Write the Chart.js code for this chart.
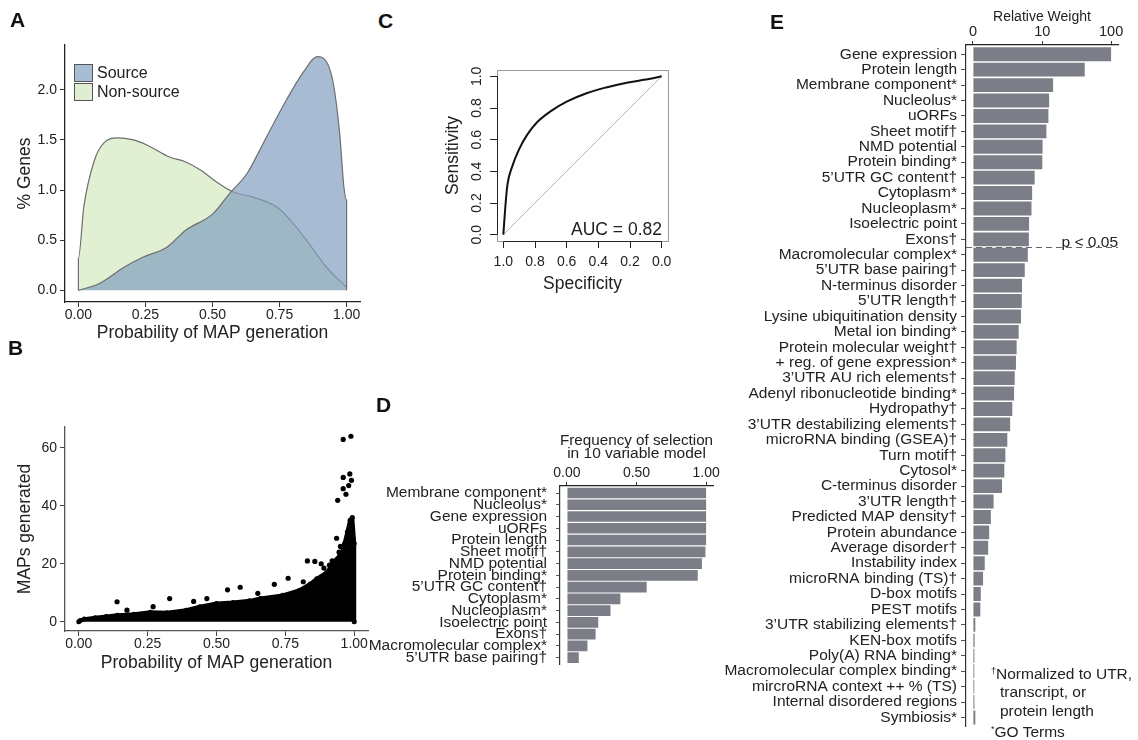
<!DOCTYPE html>
<html lang="en">
<head>
<meta charset="utf-8">
<title>MAP source gene model</title>
<script src="https://cdn.jsdelivr.net/npm/chart.js@4.4.1/dist/chart.umd.min.js"></script>
<style>
  html, body { margin: 0; background: #fff; }
  #figure { position: relative; width: 1138px; height: 740px; overflow: hidden;
            font-family: 'Liberation Sans', Arial, Helvetica, sans-serif; color: #222; }
  #figure canvas { position: absolute; }
  .panel { position: absolute; font-size: 21px; font-weight: bold; line-height: 1; color: #111; }
  .swatch { position: absolute; width: 19px; height: 18px; box-sizing: border-box; border: 1px solid #555; }
  .key { position: absolute; font-size: 16px; line-height: 18px; }
  .note { position: absolute; font-size: 15.5px; line-height: 19.5px; white-space: nowrap; }
  .note sup { font-size: 9px; vertical-align: 5px; }
</style>
</head>
<body>
<div id="figure">
  <canvas id="densityChart" width="370" height="350" style="left:0;top:0"></canvas>
  <canvas id="mapChart" width="378" height="285" style="left:0;top:395px"></canvas>
  <canvas id="rocChart" width="240" height="250" style="left:440px;top:55px"></canvas>
  <canvas id="freqChart" width="370" height="262" style="left:350px;top:421px"></canvas>
  <canvas id="weightChart" width="418" height="740" style="left:720px;top:0"></canvas>

  <div class="panel" style="left:10px;top:9px">A</div>
  <div class="panel" style="left:8px;top:337px">B</div>
  <div class="panel" style="left:378px;top:10px">C</div>
  <div class="panel" style="left:376px;top:394px">D</div>
  <div class="panel" style="left:770px;top:11px">E</div>

  <div class="swatch" style="left:74px;top:64px;background:#a8bdd4"></div>
  <div class="key" style="left:97px;top:64px">Source</div>
  <div class="swatch" style="left:74px;top:83px;background:#e1edd3"></div>
  <div class="key" style="left:97px;top:83px">Non-source</div>

  <div class="note" style="left:991px;top:662px"><sup>†</sup>Normalized to UTR,</div>
  <div class="note" style="left:1000px;top:682px">transcript, or</div>
  <div class="note" style="left:1000px;top:701px">protein length</div>
  <div class="note" style="left:991px;top:720px"><sup>*</sup>GO Terms</div>
</div>

<script>
// A: density of the predicted probability, source vs non-source genes
const densityXTicks = [0, 0.25, 0.5, 0.75, 1];
const densityYTicks = [0, 0.5, 1, 1.5, 2];
const sourceX = [0, 0.08, 0.17, 0.24, 0.33, 0.40, 0.50, 0.565, 0.63, 0.69, 0.776, 0.84, 0.89, 0.925, 0.95, 0.974, 0.99, 1, 1];
const sourceY = [0, 0.07, 0.23, 0.33, 0.43, 0.60, 0.76, 0.97, 1.17, 1.47, 1.90, 2.18, 2.33, 2.28, 2.07, 1.57, 1.03, 0.90, 0];
const nonSourceX = [0, 0, 0.02, 0.06, 0.095, 0.145, 0.205, 0.255, 0.34, 0.40, 0.455, 0.515, 0.577, 0.65, 0.74, 0.79, 0.85, 0.925, 1];
const nonSourceY = [0, 0.32, 0.83, 1.30, 1.47, 1.52, 1.50, 1.45, 1.33, 1.28, 1.20, 1.08, 0.98, 0.93, 0.83, 0.70, 0.50, 0.23, 0.03];

// B: MAPs generated per gene against probability (dense cloud outline + stray genes)
const mapXTicks = [0, 0.25, 0.5, 0.75, 1];
const mapYTicks = [0, 20, 40, 60];
const cloudX = [0, 0.005, 0.02, 0.06, 0.1, 0.14, 0.2, 0.26, 0.32, 0.39, 0.44, 0.5, 0.56, 0.62, 0.66, 0.74, 0.8, 0.84, 0.864, 0.9, 0.936, 0.955, 0.965, 0.975, 0.985, 0.993, 1, 1];
const cloudY = [0, 0.4, 0.9, 1.4, 1.8, 2.2, 2.6, 3.3, 3.1, 4.0, 5.2, 6.3, 6.6, 7.2, 8.0, 9.1, 10.8, 13.0, 14.8, 17.0, 21.5, 24, 27, 31, 35, 36, 27, 0];
const outlierX = [0.96, 0.988, 0.96, 0.984, 0.96, 0.98, 0.99, 0.97, 0.94, 0.936, 0.83, 0.139, 0.33, 0.54, 0.586, 0.71, 0.76, 0.857, 0.88, 0.92, 0.815, 0.465, 0.417, 0.27, 0.175, 0.65, 0.95, 0.945, 0.91, 0.89];
const outlierY = [62.9, 64, 49.8, 51, 45.9, 47, 48.8, 44, 41.9, 28.8, 21, 6.9, 8, 11, 11.9, 12.9, 15, 20.8, 20, 21, 13.8, 8, 7, 5.2, 4, 9.8, 26, 24, 19.5, 18.5];

// C: ROC curve of the model
const rocTicks = [0, 0.2, 0.4, 0.6, 0.8, 1];
const rocSpecificity = [1, 0.99, 0.975, 0.944, 0.9, 0.85, 0.787, 0.7, 0.6, 0.47, 0.35, 0.22, 0.1, 0];
const rocSensitivity = [0, 0.14, 0.31, 0.43, 0.54, 0.63, 0.71, 0.78, 0.84, 0.895, 0.93, 0.96, 0.98, 1];
const chanceSpecificity = [1, 0];
const chanceSensitivity = [0, 1];
const aucValue = 0.82;

// D: how often each variable enters the 10 variable model
const freqTicks = [0, 0.5, 1];
const freqLabels = ['Membrane component*', 'Nucleolus*', 'Gene expression', 'uORFs', 'Protein length',
  'Sheet motif†', 'NMD potential', 'Protein binding*', '5’UTR GC content†', 'Cytoplasm*', 'Nucleoplasm*',
  'Isoelectric point', 'Exons†', 'Macromolecular complex*', '5’UTR base pairing†'];
const freqValues = [1, 1, 1, 1, 1, 0.995, 0.97, 0.94, 0.573, 0.384, 0.313, 0.225, 0.206, 0.147, 0.085];

// E: relative weight of every variable (pseudo-log axis)
const weightTicks = [0, 10, 100];
const weightLabels = ['Gene expression', 'Protein length', 'Membrane component*', 'Nucleolus*', 'uORFs',
  'Sheet motif†', 'NMD potential', 'Protein binding*', '5’UTR GC content†', 'Cytoplasm*', 'Nucleoplasm*',
  'Isoelectric point', 'Exons†', 'Macromolecular complex*', '5’UTR base pairing†', 'N-terminus disorder',
  '5’UTR length†', 'Lysine ubiquitination density', 'Metal ion binding*', 'Protein molecular weight†',
  '+ reg. of gene expression*', '3’UTR AU rich elements†', 'Adenyl ribonucleotide binding*', 'Hydropathy†',
  '3’UTR destabilizing elements†', 'microRNA binding (GSEA)†', 'Turn motif†', 'Cytosol*', 'C-terminus disorder',
  '3’UTR length†', 'Predicted MAP density†', 'Protein abundance', 'Average disorder†', 'Instability index',
  'microRNA binding (TS)†', 'D-box motifs', 'PEST motifs', '3’UTR stabilizing elements†', 'KEN-box motifs',
  'Poly(A) RNA binding*', 'Macromolecular complex binding*', 'mircroRNA context ++ % (TS)',
  'Internal disordered regions', 'Symbiosis*'];
const weightValues = [100, 41.5, 14.4, 12.6, 12.3, 11.5, 10.1, 10.0, 7.7, 7.06, 6.9, 6.35, 6.3,
  6.07, 5.45, 4.94, 4.9, 4.76, 4.38, 4.06, 3.96, 3.78, 3.69, 3.45, 3.17, 2.83, 2.61, 2.5, 2.26,
  1.49, 1.27, 1.14, 1.06, 0.81, 0.69, 0.53, 0.5, 0.16, 0.115, 0.1, 0.09, 0.09, 0.1, 0.16];
const significantCount = 13;
const cutoffText = 'p < 0.05';

const FONT = "'Liberation Sans', Arial, Helvetica, sans-serif";
Chart.defaults.font.family = FONT;
Chart.defaults.font.size = 14;
Chart.defaults.color = '#222';
Chart.defaults.animation = false;
Chart.defaults.responsive = false;
Chart.defaults.plugins.legend.display = false;
Chart.defaults.plugins.tooltip.enabled = false;

const zip = (xs, ys) => xs.map((x, i) => ({ x, y: ys[i] }));
const fixedTicks = values => scale => { scale.ticks = values.map(value => ({ value })); };
const fixedSize = px => scale => { if (scale.isHorizontal()) scale.height = px; else scale.width = px; };
const pseudoLog = v => Math.asinh(v / 2) / Math.LN10;

new Chart('densityChart', {
  type: 'line',
  data: {
    datasets: [
      { data: zip(sourceX, sourceY), fill: 'origin', backgroundColor: 'rgba(129,159,192,0.7)',
        borderColor: '#6e6e6e', borderWidth: 1.2, pointRadius: 0, cubicInterpolationMode: 'monotone' },
      { data: zip(nonSourceX, nonSourceY), fill: 'origin', backgroundColor: 'rgba(200,225,175,0.55)',
        borderColor: '#6e6e6e', borderWidth: 1.2, pointRadius: 0, cubicInterpolationMode: 'monotone' }
    ]
  },
  options: {
    layout: { padding: { top: 45, right: 10, left: 0, bottom: 0 } },
    scales: {
      x: {
        type: 'linear', min: -0.05, max: 1.05,
        afterBuildTicks: fixedTicks(densityXTicks), afterFit: fixedSize(48),
        ticks: { padding: 0, maxRotation: 0, autoSkip: false, callback: v => v.toFixed(2) },
        grid: { drawOnChartArea: false, tickLength: 5, color: '#333' },
        border: { color: '#222', width: 1.3 },
        title: { display: true, text: 'Probability of MAP generation', font: { size: 17.5 }, padding: { top: 0, bottom: 6.5 } }
      },
      y: {
        type: 'linear', min: -0.1165, max: 2.4465,
        afterBuildTicks: fixedTicks(densityYTicks), afterFit: fixedSize(65),
        ticks: { padding: 3, autoSkip: false, callback: v => v.toFixed(1) },
        grid: { drawOnChartArea: false, tickLength: 5, color: '#333' },
        border: { color: '#222', width: 1.3 },
        title: { display: true, text: '% Genes', font: { size: 17.5 }, padding: { top: 14.5, bottom: 0 } }
      }
    }
  }
});

new Chart('mapChart', {
  type: 'scatter',
  data: {
    datasets: [
      { data: zip(outlierX, outlierY), pointRadius: 2.6, backgroundColor: '#000', borderWidth: 0 },
      { data: zip(cloudX, cloudY), showLine: true, fill: 'origin', backgroundColor: '#000', borderColor: '#000',
        borderWidth: 4, borderJoinStyle: 'round', pointRadius: 2.5, pointBackgroundColor: '#000', pointBorderWidth: 0 }
    ]
  },
  options: {
    layout: { padding: { top: 32, right: 10, left: 0, bottom: 0 } },
    scales: {
      x: {
        type: 'linear', min: -0.05, max: 1.05,
        afterBuildTicks: fixedTicks(mapXTicks), afterFit: fixedSize(49),
        ticks: { padding: 0, maxRotation: 0, autoSkip: false, callback: v => v.toFixed(2) },
        grid: { drawOnChartArea: false, tickLength: 5, color: '#444' },
        border: { color: '#555', width: 1.3 },
        title: { display: true, text: 'Probability of MAP generation', font: { size: 17.5 }, padding: { top: 0, bottom: 6.5 } }
      },
      y: {
        type: 'linear', min: -3.2, max: 67.2,
        afterBuildTicks: fixedTicks(mapYTicks), afterFit: fixedSize(65),
        ticks: { padding: 3, autoSkip: false },
        grid: { drawOnChartArea: false, tickLength: 5, color: '#444' },
        border: { color: '#555', width: 1.3 },
        title: { display: true, text: 'MAPs generated', font: { size: 17.5 }, padding: { top: 15, bottom: 0 } }
      }
    }
  }
});

// grey frame, black axis runs, upright y labels and the AUC note
const rocDecor = {
  id: 'rocDecor',
  afterDraw(chart) {
    const { ctx, chartArea: a, scales: { x, y } } = chart;
    ctx.save();
    ctx.strokeStyle = '#9a9a9a';
    ctx.lineWidth = 1;
    ctx.strokeRect(Math.round(a.left) + 0.5, Math.round(a.top) + 0.5, Math.round(a.width), Math.round(a.height));
    ctx.strokeStyle = '#222';
    ctx.beginPath();
    ctx.moveTo(Math.round(a.left) + 0.5, y.getPixelForValue(0));
    ctx.lineTo(Math.round(a.left) + 0.5, y.getPixelForValue(1));
    ctx.moveTo(x.getPixelForValue(1), Math.round(a.bottom) + 0.5);
    ctx.lineTo(x.getPixelForValue(0), Math.round(a.bottom) + 0.5);
    ctx.stroke();
    ctx.fillStyle = '#222';
    ctx.font = `14px ${FONT}`;
    ctx.textAlign = 'center';
    ctx.textBaseline = 'alphabetic';
    y.ticks.forEach(t => {
      ctx.save();
      ctx.translate(a.left - 16, y.getPixelForValue(t.value));
      ctx.rotate(-Math.PI / 2);
      ctx.fillText(t.value.toFixed(1), 0, 0);
      ctx.restore();
    });
    ctx.font = `17.5px ${FONT}`;
    ctx.textAlign = 'right';
    ctx.fillText('AUC = ' + aucValue.toFixed(2), a.right - 6, a.bottom - 6);
    ctx.restore();
  }
};

new Chart('rocChart', {
  type: 'line',
  data: {
    datasets: [
      { data: zip(rocSpecificity, rocSensitivity), borderColor: '#111', borderWidth: 2, pointRadius: 0, cubicInterpolationMode: 'monotone' },
      { data: zip(chanceSpecificity, chanceSensitivity), borderColor: '#b5b5b5', borderWidth: 1, pointRadius: 0 }
    ]
  },
  options: {
    layout: { padding: { top: 15, right: 12, left: 0, bottom: 0 } },
    scales: {
      x: {
        type: 'linear', reverse: true, min: -0.04, max: 1.04,
        afterBuildTicks: fixedTicks(rocTicks), afterFit: fixedSize(64),
        ticks: { padding: 5.6, maxRotation: 0, autoSkip: false, callback: v => v.toFixed(1) },
        grid: { drawOnChartArea: false, tickLength: 7, color: '#222' },
        border: { display: false },
        title: { display: true, text: 'Specificity', font: { size: 17.5 }, padding: { top: 0, bottom: 10.5 } }
      },
      y: {
        type: 'linear', min: -0.04, max: 1.04,
        afterBuildTicks: fixedTicks(rocTicks), afterFit: fixedSize(57),
        ticks: { display: false },
        grid: { drawOnChartArea: false, tickLength: 7, color: '#222' },
        border: { display: false },
        title: { display: true, text: 'Sensitivity', font: { size: 17.5 }, padding: { top: 2.5, bottom: 0 } }
      }
    }
  },
  plugins: [rocDecor]
});

new Chart('freqChart', {
  type: 'bar',
  data: {
    datasets: [{
      data: freqValues.map((v, i) => ({ x: v, y: i })),
      backgroundColor: '#7b7e86', barPercentage: 0.9, categoryPercentage: 1
    }]
  },
  options: {
    indexAxis: 'y',
    layout: { padding: { top: 0, right: 6, left: 0, bottom: 3 } },
    scales: {
      x: {
        type: 'linear', position: 'top', min: -0.05, max: 1.05,
        afterBuildTicks: fixedTicks(freqTicks), afterFit: fixedSize(65),
        ticks: { padding: 0, maxRotation: 0, autoSkip: false, callback: v => v.toFixed(2) },
        grid: { drawOnChartArea: false, tickLength: 4, color: '#333' },
        border: { color: '#222', width: 1.3 },
        title: { display: true, text: ['Frequency of selection', 'in 10 variable model'],
                 font: { size: 15.5, lineHeight: 0.85 }, padding: { top: 13.4, bottom: 0 } }
      },
      y: {
        type: 'linear', reverse: true, offset: false, min: -0.6, max: freqLabels.length - 0.4,
        afterBuildTicks: fixedTicks(freqLabels.map((_, i) => i)), afterFit: fixedSize(210),
        ticks: { autoSkip: false, padding: 9, font: { size: 15.5 }, callback: (v, i) => freqLabels[i] },
        grid: { drawOnChartArea: false, offset: false, tickLength: 4, color: '#555' },
        border: { color: '#333', width: 1.2 }
      }
    }
  }
});

// dashed significance cut between the 13th and 14th variable
const cutoffLine = {
  id: 'cutoffLine',
  afterDatasetsDraw(chart) {
    const { ctx, chartArea: a, scales: { y } } = chart;
    const py = Math.round(y.getPixelForValue(significantCount - 0.5)) + 0.5;
    ctx.save();
    ctx.strokeStyle = '#666';
    ctx.lineWidth = 1;
    ctx.setLineDash([6, 4]);
    ctx.beginPath();
    ctx.moveTo(a.left, py);
    ctx.lineTo(a.right, py);
    ctx.stroke();
    ctx.fillStyle = '#222';
    ctx.font = `15.5px ${FONT}`;
    ctx.textAlign = 'right';
    ctx.textBaseline = 'alphabetic';
    ctx.fillText(cutoffText, a.right, py - 1);
    ctx.restore();
  }
};

new Chart('weightChart', {
  type: 'bar',
  data: {
    datasets: [{
      data: weightValues.map((v, i) => ({ x: pseudoLog(v), y: i })),
      backgroundColor: '#7b7e86', barPercentage: 0.9, categoryPercentage: 1
    }]
  },
  options: {
    indexAxis: 'y',
    layout: { padding: { top: 0, right: 20, left: 0, bottom: 0 } },
    scales: {
      x: {
        type: 'linear', position: 'top', min: -0.1, max: 2.1,
        afterBuildTicks: fixedTicks(weightTicks.map(pseudoLog)), afterFit: fixedSize(45),
        ticks: { padding: 0, maxRotation: 0, autoSkip: false, font: { size: 14.5 }, callback: (v, i) => String(weightTicks[i]) },
        grid: { drawOnChartArea: false, tickLength: 4, color: '#333' },
        border: { color: '#222', width: 1.3 },
        title: { display: true, text: 'Relative Weight', font: { size: 14 }, padding: { top: 8.6, bottom: 0 } }
      },
      y: {
        type: 'linear', reverse: true, offset: false, min: -0.6, max: weightLabels.length - 0.4,
        afterBuildTicks: fixedTicks(weightLabels.map((_, i) => i)), afterFit: fixedSize(246),
        ticks: { autoSkip: false, padding: 4, font: { size: 15.5 }, callback: (v, i) => weightLabels[i] },
        grid: { drawOnChartArea: false, offset: false, tickLength: 5, color: '#555' },
        border: { color: '#333', width: 1.2 }
      }
    }
  },
  plugins: [cutoffLine]
});
</script>
</body>
</html>
